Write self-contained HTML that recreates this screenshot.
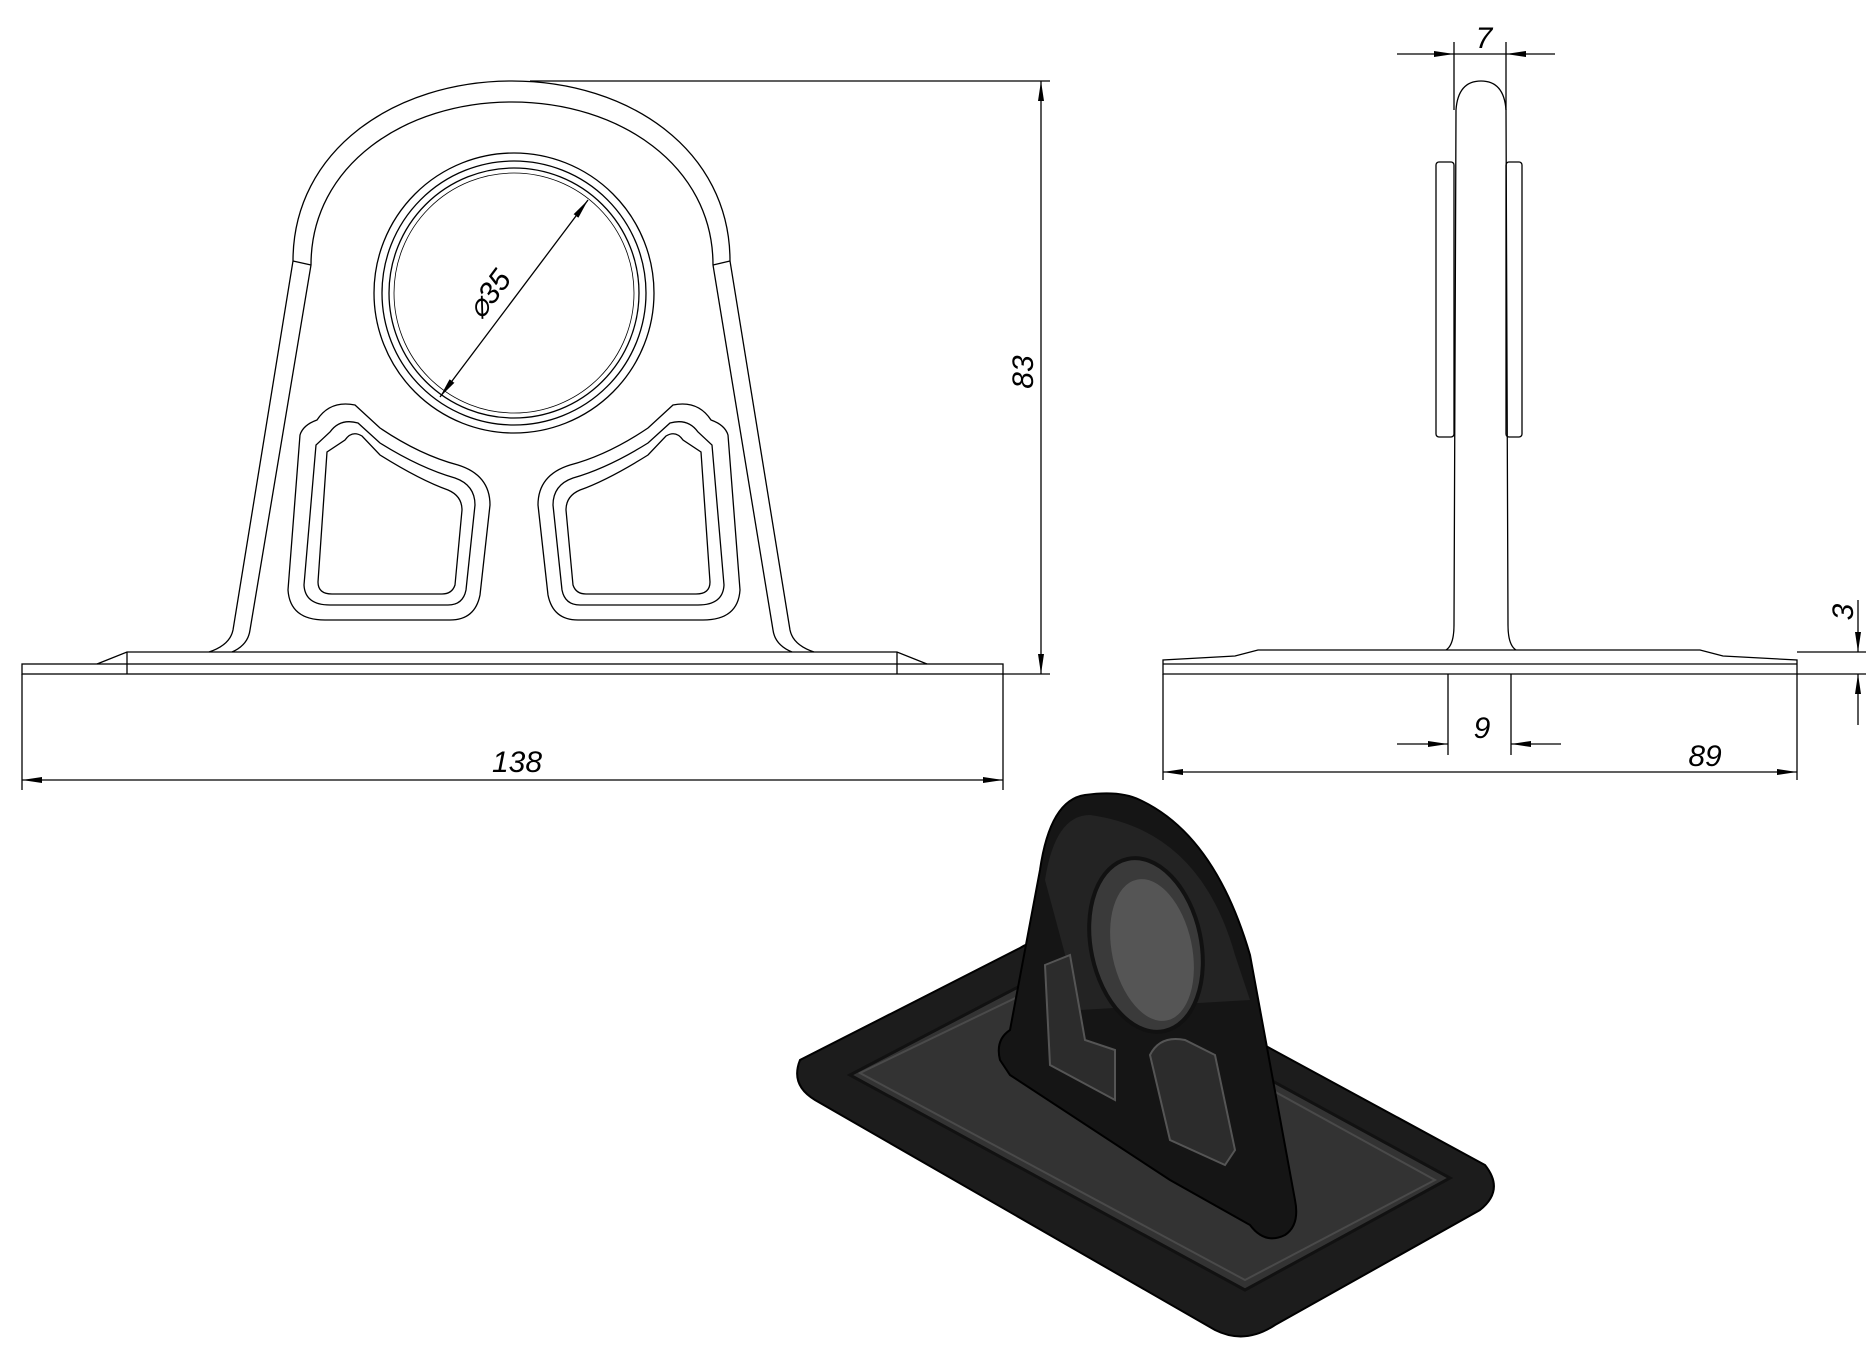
<!DOCTYPE html>
<html><head><style>html,body{margin:0;padding:0;background:#fff;}svg{display:block}</style></head>
<body>
<svg width="1876" height="1358" viewBox="0 0 1876 1358" xmlns="http://www.w3.org/2000/svg" font-family="Liberation Sans, sans-serif">
<defs>
<marker id="ar" viewBox="0 0 20 8" refX="20" refY="4" markerWidth="20" markerHeight="8" orient="auto-start-reverse" markerUnits="userSpaceOnUse"><path d="M0,1 L20,4 L0,7 Z" fill="#000"/></marker>
</defs>
<g fill="none" stroke="#000" stroke-width="1.3">
<!-- FRONT VIEW -->
<path d="M209,652 Q230,645 233,630 L293,261 C293,150 395,81 512,81 C629,81 730,150 730,261 L790,630 Q793,645 814,652"/>
<path d="M232,652 Q248,645 250,630 L311,265 C311,165 405,102 512,102 C619,102 713,165 713,265 L773,630 Q775,645 792,652"/>
<path d="M293,261 L311,265 M730,261 L713,265"/>
<rect x="22" y="664" width="981" height="10"/>
<path d="M97,664 L127,652 L897,652 L927,664"/>
<line x1="127" y1="652" x2="127" y2="674"/><line x1="897" y1="652" x2="897" y2="674"/>
<circle cx="514" cy="293" r="140"/><circle cx="514" cy="293" r="132"/><circle cx="514" cy="293" r="125"/>
<circle cx="514" cy="293" r="120" stroke-width="0.8"/>
<g id="win">
<path d="M317,420 Q330,400 355,405 L380,428 Q420,455 458,465 Q490,475 490,505 L480,595 Q475,620 450,620 L325,620 Q290,620 288,590 L300,435 Q303,425 317,420 Z"/>
<path d="M330,432 Q340,418 358,423 L380,443 Q420,468 455,478 Q475,485 475,505 L466,590 Q463,605 448,605 L330,605 Q305,605 304,585 L316,445 Z"/>
<path d="M345,440 Q352,430 362,436 L380,455 Q420,480 448,490 Q462,496 462,510 L455,585 Q452,594 442,594 L332,594 Q318,594 318,582 L327,452 Z"/>
</g>
<use href="#win" transform="matrix(-1,0,0,1,1028,0)"/>
<!-- front dims -->
<line x1="530" y1="81" x2="1050" y2="81"/>
<line x1="1003" y1="674" x2="1050" y2="674"/>
<line x1="1041" y1="81" x2="1041" y2="674" marker-start="url(#ar)" marker-end="url(#ar)"/>
<line x1="22" y1="674" x2="22" y2="790"/><line x1="1003" y1="674" x2="1003" y2="790"/>
<line x1="22" y1="780" x2="1003" y2="780" marker-start="url(#ar)" marker-end="url(#ar)"/>
<line x1="440" y1="397" x2="588" y2="200" marker-start="url(#ar)" marker-end="url(#ar)"/>
<!-- SIDE VIEW -->
<path d="M1446,650 Q1454,645 1454,625 L1456,110 Q1458,81 1481,81 Q1504,81 1506,110 L1508,625 Q1508,645 1516,650"/>
<rect x="1436" y="162" width="18" height="275" rx="3"/><rect x="1506" y="162" width="16" height="275" rx="3"/>
<path d="M1163,660 L1163,674 L1797,674 L1797,660 L1723,656 L1700,650 L1258,650 L1235,656 Z"/>
<line x1="1163" y1="664" x2="1797" y2="664"/>
<line x1="1454" y1="42" x2="1454" y2="110"/><line x1="1506" y1="42" x2="1506" y2="110"/>
<line x1="1397" y1="54" x2="1454" y2="54" marker-end="url(#ar)"/><line x1="1555" y1="54" x2="1506" y2="54" marker-end="url(#ar)"/>
<line x1="1454" y1="54" x2="1506" y2="54"/>
<line x1="1448" y1="674" x2="1448" y2="755"/><line x1="1511" y1="674" x2="1511" y2="755"/>
<line x1="1397" y1="744" x2="1448" y2="744" marker-end="url(#ar)"/><line x1="1561" y1="744" x2="1511" y2="744" marker-end="url(#ar)"/>
<line x1="1163" y1="674" x2="1163" y2="780"/><line x1="1797" y1="674" x2="1797" y2="780"/>
<line x1="1163" y1="772" x2="1797" y2="772" marker-start="url(#ar)" marker-end="url(#ar)"/>
<line x1="1797" y1="652" x2="1866" y2="652"/><line x1="1797" y1="674" x2="1866" y2="674"/>
<line x1="1858" y1="600" x2="1858" y2="652" marker-end="url(#ar)"/><line x1="1858" y1="725" x2="1858" y2="674" marker-end="url(#ar)"/>
</g>
<g font-style="italic" font-size="30" fill="#000">
<text x="517" y="772" text-anchor="middle">138</text>
<text x="1033" y="372" text-anchor="middle" transform="rotate(-90 1033 372)">83</text>
<text x="497" y="300" text-anchor="middle" transform="rotate(-53 497 300)">⌀35</text>
<text x="1484" y="48" text-anchor="middle">7</text>
<text x="1482" y="738" text-anchor="middle">9</text>
<text x="1705" y="766" text-anchor="middle">89</text>
<text x="1853" y="612" text-anchor="middle" transform="rotate(-90 1853 612)">3</text>
</g>
<!-- 3D VIEW -->
<g>
<path d="M800,1060 Q790,1085 815,1100 L1215,1330 Q1245,1345 1275,1325 L1480,1210 Q1505,1190 1485,1165 L1080,945 Q1050,930 1020,948 Z" fill="#1c1c1c" stroke="#000" stroke-width="2"/>
<path d="M850,1075 L1060,965 L1450,1178 L1245,1290 Z" fill="#333" stroke="#111" stroke-width="3"/>
<path d="M860,1073 L1063,975 L1435,1180 L1245,1280 Z" fill="none" stroke="#4a4a4a" stroke-width="2"/>
<path d="M1000,1060 Q995,1040 1010,1030 L1040,870 Q1050,800 1085,795 Q1120,790 1140,800 Q1215,835 1250,955 L1295,1200 Q1300,1225 1285,1235 Q1265,1245 1250,1225 L1170,1180 L1010,1075 Z" fill="#151515" stroke="#000" stroke-width="2"/>
<path d="M1045,880 Q1055,815 1090,815 Q1200,830 1235,955 L1250,1000 L1080,1010 Z" fill="#232323"/>
<ellipse cx="1146" cy="945" rx="55" ry="88" transform="rotate(-12 1146 945)" fill="#3a3a3a" stroke="#111" stroke-width="4"/>
<ellipse cx="1152" cy="950" rx="40" ry="72" transform="rotate(-12 1152 950)" fill="#555"/>
<path d="M1045,965 L1070,955 L1085,1040 L1115,1050 L1115,1100 L1050,1065 Z" fill="#2c2c2c" stroke="#555" stroke-width="2"/>
<path d="M1150,1055 Q1160,1035 1185,1040 L1215,1055 L1235,1150 L1225,1165 L1170,1140 Z" fill="#2c2c2c" stroke="#555" stroke-width="2"/>
</g>
</svg>
</body></html>
